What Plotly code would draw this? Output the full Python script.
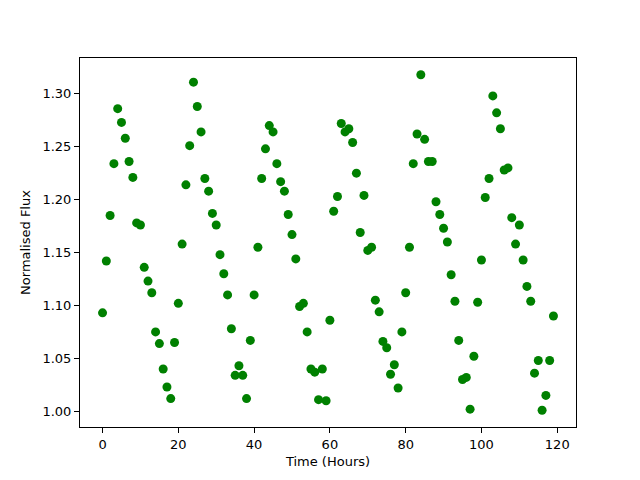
import plotly.graph_objects as go

hours = list(range(120))
flux = [
    1.093, 1.142, 1.185, 1.234, 1.286, 1.273, 1.258, 1.236, 1.221, 1.178,
    1.176, 1.136, 1.123, 1.112, 1.075, 1.064, 1.040, 1.023, 1.012, 1.065,
    1.102, 1.158, 1.214, 1.251, 1.311, 1.288, 1.264, 1.220, 1.208, 1.187,
    1.176, 1.148, 1.130, 1.110, 1.078, 1.034, 1.043, 1.034, 1.012, 1.067,
    1.110, 1.155, 1.220, 1.248, 1.270, 1.264, 1.234, 1.217, 1.208, 1.186,
    1.167, 1.144, 1.099, 1.102, 1.075, 1.040, 1.037, 1.011, 1.040, 1.010,
    1.086, 1.189, 1.203, 1.272, 1.264, 1.267, 1.254, 1.225, 1.169, 1.204,
    1.152, 1.155, 1.105, 1.094, 1.066, 1.060, 1.035, 1.044, 1.022, 1.075,
    1.112, 1.155, 1.234, 1.262, 1.318, 1.257, 1.236, 1.236, 1.198, 1.186,
    1.173, 1.160, 1.129, 1.104, 1.067, 1.030, 1.032, 1.002, 1.052, 1.103,
    1.143, 1.202, 1.220, 1.298, 1.282, 1.267, 1.228, 1.230, 1.183, 1.158,
    1.176, 1.143, 1.118, 1.104, 1.036, 1.048, 1.001, 1.015, 1.048, 1.090,
]
x_ticks = [0, 20, 40, 60, 80, 100, 120]
y_ticks = [1.00, 1.05, 1.10, 1.15, 1.20, 1.25, 1.30]

fig = go.Figure(go.Scatter(
    x=hours, y=flux, mode="markers",
    marker=dict(color="#008000", size=9, line=dict(width=0)),
))

xr = (min(hours), max(hours))
yr = (min(flux), max(flux))
xm = (xr[1] - xr[0]) * 0.05
ym = (yr[1] - yr[0]) * 0.05

axis_common = dict(
    showgrid=False, zeroline=False, showline=True, linecolor="black",
    linewidth=1, mirror=True, ticks="outside", ticklen=5, tickwidth=1,
    tickcolor="black", tickfont=dict(family="DejaVu Sans", size=13, color="black"),
    automargin=False,
)
fig.update_layout(
    width=640, height=480,
    margin=dict(l=80, r=64, t=58, b=53, autoexpand=False),
    paper_bgcolor="white", plot_bgcolor="white",
    font=dict(family="DejaVu Sans", size=13, color="black"),
    showlegend=False,
    xaxis=dict(range=[xr[0] - xm, xr[1] + xm], tickvals=x_ticks,
               title=dict(text="Time (Hours)", standoff=6,
                          font=dict(family="DejaVu Sans", size=13, color="black")),
               **axis_common),
    yaxis=dict(range=[yr[0] - ym, yr[1] + ym], tickvals=y_ticks,
               tickformat=".2f",
               title=dict(text="Normalised Flux", standoff=8,
                          font=dict(family="DejaVu Sans", size=13, color="black")),
               **axis_common),
)
fig.write_html("out.html", config={"displayModeBar": False},
               post_script="document.body.style.margin='0';")
